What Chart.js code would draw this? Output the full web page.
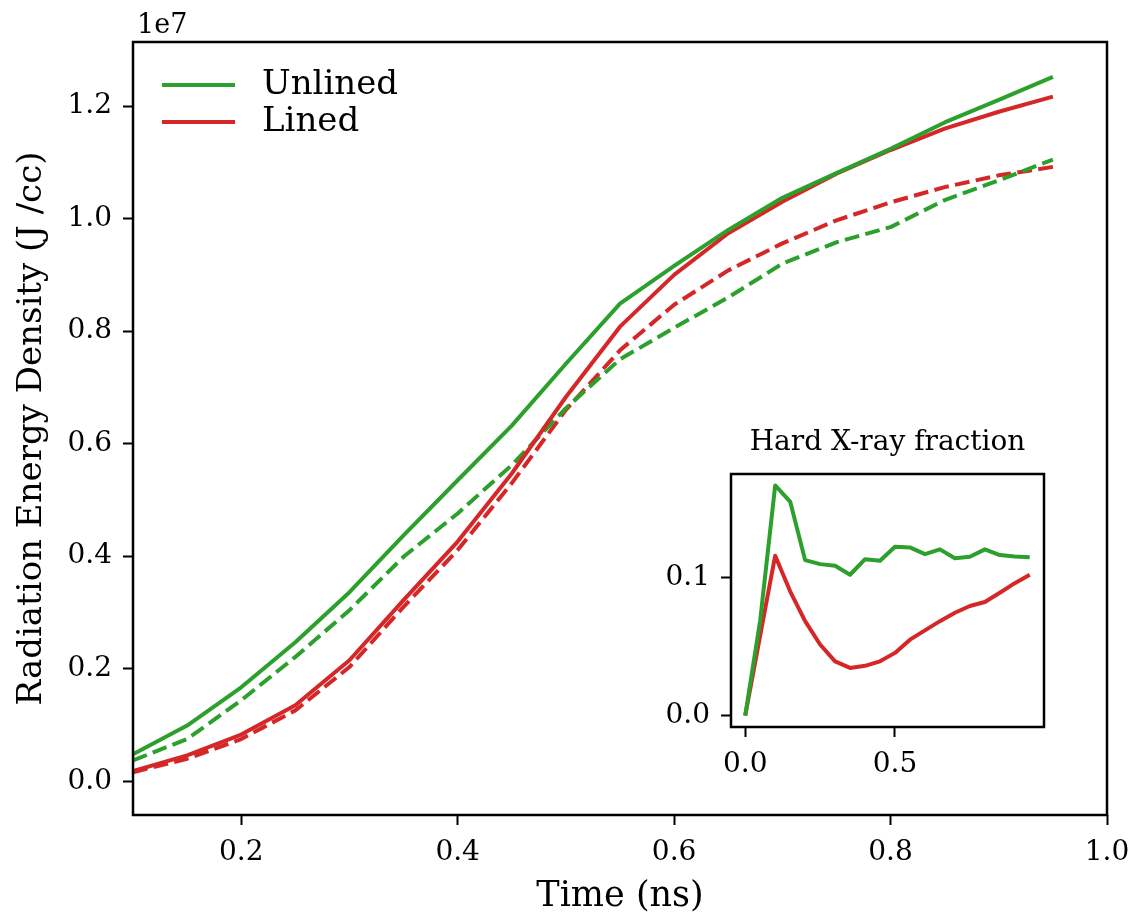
<!DOCTYPE html>
<html>
<head>
<meta charset="utf-8">
<script src="https://cdn.jsdelivr.net/npm/chart.js@4.4.1/dist/chart.umd.min.js"></script>
<style>
  html, body { margin: 0; padding: 0; background: #fff; }
  #wrap { position: relative; width: 1141px; height: 919px; }
  #mainChart { position: absolute; left: 0; top: 0; }
  #insetChart { position: absolute; left: 640px; top: 420px; }
</style>
</head>
<body>
<div id="wrap">
  <canvas id="mainChart" width="1141" height="919"></canvas>
  <canvas id="insetChart" width="420" height="360"></canvas>
</div>
<script>
const FONT = '"DejaVu Serif", serif';
const GREEN = '#2ca02c';
const RED = '#d62728';

// main panel, energy density in units of 1e7 J/cc
const times = [0.10, 0.15, 0.20, 0.25, 0.30, 0.35, 0.40, 0.45, 0.50, 0.55, 0.60, 0.65, 0.70, 0.75, 0.80, 0.85, 0.90, 0.95];
const unlinedSolid = [0.048, 0.099, 0.167, 0.247, 0.336, 0.437, 0.535, 0.632, 0.742, 0.849, 0.916, 0.980, 1.037, 1.081, 1.124, 1.171, 1.211, 1.252];
const linedSolid   = [0.018, 0.046, 0.083, 0.135, 0.215, 0.322, 0.426, 0.547, 0.683, 0.808, 0.900, 0.974, 1.030, 1.080, 1.122, 1.160, 1.190, 1.217];
const unlinedDash  = [0.037, 0.075, 0.144, 0.221, 0.304, 0.399, 0.476, 0.562, 0.663, 0.750, 0.806, 0.860, 0.920, 0.958, 0.985, 1.033, 1.068, 1.105];
const linedDash    = [0.016, 0.040, 0.075, 0.126, 0.203, 0.310, 0.411, 0.530, 0.660, 0.766, 0.847, 0.908, 0.956, 0.997, 1.029, 1.056, 1.077, 1.092];
const xTicks = [0.2, 0.4, 0.6, 0.8, 1.0];
const yTicks = [0.0, 0.2, 0.4, 0.6, 0.8, 1.0, 1.2];

// inset: hard x-ray fraction
const insetTimes = [0.00, 0.05, 0.10, 0.15, 0.20, 0.25, 0.30, 0.35, 0.40, 0.45, 0.50, 0.55, 0.60, 0.65, 0.70, 0.75, 0.80, 0.85, 0.90, 0.95];
const insetUnlined = [0, 0.069, 0.1667, 0.155, 0.1126, 0.1097, 0.1085, 0.102, 0.1133, 0.1121, 0.1223, 0.1218, 0.117, 0.1204, 0.114, 0.115, 0.1204, 0.1163, 0.1153, 0.1146];
const insetLined   = [0, 0.058, 0.1158, 0.090, 0.0684, 0.0515, 0.0393, 0.0345, 0.036, 0.0393, 0.0454, 0.055, 0.0617, 0.0684, 0.0745, 0.0794, 0.0823, 0.089, 0.0959, 0.102];
const insetXTicks = [0.0, 0.5];
const insetYTicks = [0.0, 0.1];

function pts(xs, ys) {
  return xs.map((x, i) => ({ x: x, y: ys[i] }));
}

function line(label, xs, ys, color, dashed, inLegend) {
  return {
    label: label,
    data: pts(xs, ys),
    borderColor: color,
    backgroundColor: color,
    borderWidth: 4,
    borderDash: dashed ? [14.8, 6.4] : [],
    borderCapStyle: 'butt',
    borderJoinStyle: 'round',
    pointRadius: 0,
    tension: 0,
    fill: false,
    inLegend: inLegend
  };
}

function axis(min, max, tickValues, extra) {
  return Object.assign({
    type: 'linear',
    min: min,
    max: max,
    afterBuildTicks: s => { s.ticks = tickValues.map(v => ({ value: v })); },
    ticks: {
      font: { family: FONT, size: 28 },
      color: '#000',
      padding: 11,
      autoSkip: false,
      maxRotation: 0,
      callback: v => v.toFixed(1)
    },
    grid: { drawOnChartArea: false, drawTicks: true, tickLength: 10, tickColor: '#000', tickWidth: 2 },
    border: { display: false }
  }, extra);
}

const framePlugin = {
  id: 'frame',
  afterDraw(chart) {
    const a = chart.chartArea, ctx = chart.ctx;
    ctx.save();
    ctx.strokeStyle = '#000';
    ctx.lineWidth = 2.5;
    ctx.strokeRect(a.left, a.top, a.right - a.left, a.bottom - a.top);
    ctx.restore();
  }
};

const legendPlugin = {
  id: 'lineLegend',
  afterDraw(chart) {
    const a = chart.chartArea, ctx = chart.ctx;
    ctx.save();
    let y = a.top + 43;
    chart.data.datasets.filter(d => d.inLegend).forEach(d => {
      ctx.strokeStyle = d.borderColor;
      ctx.lineWidth = d.borderWidth;
      ctx.setLineDash([]);
      ctx.beginPath();
      ctx.moveTo(a.left + 29, y);
      ctx.lineTo(a.left + 102, y);
      ctx.stroke();
      ctx.fillStyle = '#000';
      ctx.font = '34px ' + FONT;
      ctx.textBaseline = 'middle';
      ctx.fillText(d.label, a.left + 129, y);
      y += 37;
    });
    // axis offset text
    ctx.font = '27px ' + FONT;
    ctx.textBaseline = 'alphabetic';
    ctx.fillText('1e7', a.left + 4, a.top - 9);
    ctx.restore();
  }
};

const insetTitlePlugin = {
  id: 'insetTitle',
  afterDraw(chart) {
    const a = chart.chartArea, ctx = chart.ctx;
    ctx.save();
    ctx.fillStyle = '#000';
    ctx.font = '28px ' + FONT;
    ctx.textAlign = 'center';
    ctx.textBaseline = 'middle';
    ctx.fillText('Hard X-ray fraction', (a.left + a.right) / 2, a.top - 31);
    ctx.restore();
  }
};

new Chart(document.getElementById('mainChart'), {
  type: 'line',
  data: {
    datasets: [
      line('Unlined', times, unlinedSolid, GREEN, false, true),
      line('Lined', times, linedSolid, RED, false, true),
      line('Unlined (dashed)', times, unlinedDash, GREEN, true, false),
      line('Lined (dashed)', times, linedDash, RED, true, false)
    ]
  },
  options: {
    responsive: false,
    animation: false,
    devicePixelRatio: 1,
    layout: { padding: { left: 0, right: 34, top: 42, bottom: 0 } },
    plugins: { legend: { display: false }, tooltip: { enabled: false } },
    scales: {
      x: axis(0.1, 1.0, xTicks, {
        afterFit: s => { s.height = 104; },
        title: { display: true, text: 'Time (ns)', color: '#000', font: { family: FONT, size: 35 }, padding: { top: 0, bottom: 1 } }
      }),
      y: axis(-0.06, 1.314, yTicks, {
        afterFit: s => { s.width = 133; },
        title: { display: true, text: 'Radiation Energy Density (J /cc)', color: '#000', font: { family: FONT, size: 34 }, padding: { top: 12, bottom: 0 } }
      })
    }
  },
  plugins: [framePlugin, legendPlugin]
});

new Chart(document.getElementById('insetChart'), {
  type: 'line',
  data: {
    datasets: [
      line('Unlined', insetTimes, insetUnlined, GREEN, false, false),
      line('Lined', insetTimes, insetLined, RED, false, false)
    ]
  },
  options: {
    responsive: false,
    animation: false,
    devicePixelRatio: 1,
    layout: { padding: { left: 0, right: 16, top: 54, bottom: 0 } },
    plugins: { legend: { display: false }, tooltip: { enabled: false } },
    scales: {
      x: axis(-0.0475, 0.9975, insetXTicks, { afterFit: s => { s.height = 53; } }),
      y: axis(-0.0083, 0.175, insetYTicks, { afterFit: s => { s.width = 91; } })
    }
  },
  plugins: [framePlugin, insetTitlePlugin]
});
</script>
</body>
</html>
